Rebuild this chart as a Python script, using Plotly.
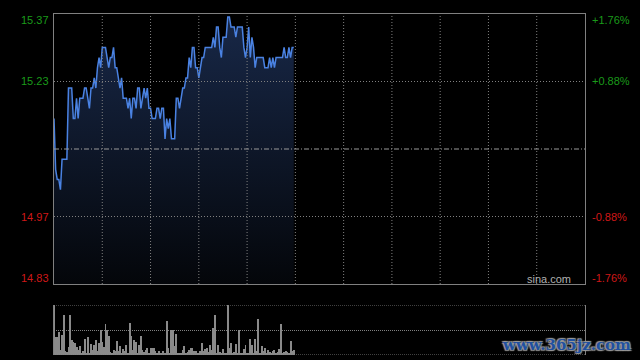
import plotly.graph_objects as go

# ---- data (HK intraday, 09:30-12:00 one point per minute) ----
prev_close = 15.10
pct_levels = [1.76, 0.88, -0.88, -1.76]
total_minutes = 330
grid_step_minutes = 30

prices = [
    15.16, 15.06, 15.04, 15.04, 15.02, 15.08, 15.08, 15.08, 15.08, 15.22,
    15.22, 15.22, 15.16, 15.16, 15.20, 15.16, 15.20, 15.20, 15.20, 15.22,
    15.22, 15.20, 15.18, 15.22, 15.22, 15.24, 15.22, 15.26, 15.28, 15.26,
    15.30, 15.30, 15.30, 15.28, 15.26, 15.28, 15.28, 15.30, 15.26, 15.26,
    15.24, 15.22, 15.24, 15.20, 15.20, 15.20, 15.18, 15.20, 15.16, 15.20,
    15.20, 15.18, 15.22, 15.22, 15.18, 15.20, 15.22, 15.20, 15.22, 15.18,
    15.18, 15.16, 15.16, 15.16, 15.18, 15.18, 15.16, 15.18, 15.18, 15.12,
    15.16, 15.14, 15.16, 15.12, 15.12, 15.12, 15.20, 15.20, 15.18, 15.20,
    15.22, 15.22, 15.24, 15.24, 15.28, 15.26, 15.30, 15.30, 15.26, 15.26,
    15.24, 15.26, 15.28, 15.28, 15.30, 15.30, 15.30, 15.30, 15.30, 15.32,
    15.30, 15.34, 15.34, 15.30, 15.28, 15.32, 15.32, 15.32, 15.36, 15.36,
    15.34, 15.34, 15.34, 15.32, 15.34, 15.34, 15.34, 15.34, 15.30, 15.28,
    15.30, 15.34, 15.28, 15.32, 15.30, 15.26, 15.28, 15.28, 15.28, 15.28,
    15.28, 15.26, 15.26, 15.26, 15.28, 15.26, 15.28, 15.26, 15.28, 15.28,
    15.28, 15.28, 15.28, 15.30, 15.28, 15.28, 15.30, 15.28, 15.30, 15.30,
]

volumes = [
    1000, 370, 370, 470, 110, 400, 800, 80, 70, 170,
    800, 300, 270, 250, 170, 100, 180, 50, 90, 320,
    50, 370, 50, 220, 100, 200, 300, 80, 250, 500,
    270, 170, 620, 510, 390, 70, 30, 100, 80, 290,
    80, 180, 50, 130, 80, 210, 30, 650, 390, 110,
    300, 270, 30, 200, 380, 100, 70, 100, 150, 30,
    150, 150, 150, 80, 50, 80, 30, 30, 80, 50,
    680, 150, 50, 500, 500, 180, 430, 50, 30, 30,
    110, 180, 30, 70, 100, 150, 150, 80, 80, 50,
    30,
    80, 250, 80, 130, 150, 70, 200, 110, 550, 800,
    30, 200, 70, 30, 130, 30, 30, 1000, 150, 250,
    30, 70, 220, 50, 500, 50, 30, 130, 200, 50,
    30, 320, 200, 50, 320, 80, 730, 50, 180, 80,
    150, 30, 100, 70, 50, 80, 110, 50, 70, 130,
    620, 50, 70, 80, 70, 30, 280, 80, 110,
]

watermark = "sina.com"
site_mark = "www.365jz.com"

# ---- derived values ----
minutes = list(range(len(prices)))
price_levels = [prev_close * (1 + p / 100) for p in pct_levels]
hi, lo = price_levels[0], price_levels[-1]
vmax = max(volumes)

W, H = 640, 360
x_dom = [54 / W, 585 / W]
y_main = [1 - 284 / H, 1 - 14 / H]
y_vol = [1 - 355 / H, 1 - 305 / H]

grey = "#808080"
green = "#1a9a1a"
red = "#d01818"
font_fam = "Liberation Sans, Arial, sans-serif"

fig = go.Figure()

fig.add_trace(go.Scatter(
    x=minutes, y=prices, mode="lines",
    line=dict(color="#4a82e2", width=1.5),
    fill="tozeroy",
    fillgradient=dict(type="vertical", start=lo, stop=hi,
                      colorscale=[[0, "rgb(4,6,10)"], [1, "rgb(24,40,72)"]]),
    xaxis="x", yaxis="y", hoverinfo="skip", showlegend=False,
))

fig.add_trace(go.Bar(
    x=minutes, y=volumes, marker=dict(color="#8a8a8a", line=dict(width=0)),
    width=0.6, xaxis="x2", yaxis="y2", hoverinfo="skip", showlegend=False,
))

fig.update_layout(
    width=W, height=H,
    margin=dict(l=0, r=0, t=0, b=0),
    paper_bgcolor="black", plot_bgcolor="black",
    showlegend=False,
    xaxis=dict(domain=x_dom, range=[0, total_minutes], anchor="y",
               showticklabels=False, ticks="", showgrid=False,
               showline=True, mirror=True, linecolor=grey, linewidth=1,
               zeroline=False, fixedrange=True),
    yaxis=dict(domain=y_main, range=[lo, hi], anchor="x",
               showticklabels=False, ticks="", showgrid=False,
               showline=True, mirror=True, linecolor=grey, linewidth=1,
               zeroline=False, fixedrange=True),
    xaxis2=dict(domain=x_dom, range=[0, total_minutes], anchor="y2",
                showticklabels=False, ticks="", showgrid=False,
                showline=False, zeroline=False, fixedrange=True),
    yaxis2=dict(domain=y_vol, range=[0, vmax], anchor="x2",
                tickvals=[vmax / 2],
                showticklabels=False, ticks="",
                showgrid=True, gridcolor=grey, gridwidth=1, griddash="1px,1px",
                showline=True, mirror=True, linecolor=grey, linewidth=1,
                zeroline=False, fixedrange=True),
    bargap=0,
)

# main-chart grid drawn above the area fill
for m in range(grid_step_minutes, total_minutes, grid_step_minutes):
    fig.add_shape(type="line", xref="x", yref="y domain", x0=m, x1=m, y0=0, y1=1,
                  layer="above", line=dict(color=grey, width=1, dash="1px,2px"))
for lvl in (price_levels[1], price_levels[2]):
    fig.add_shape(type="line", xref="x domain", yref="y", x0=0, x1=1, y0=lvl, y1=lvl,
                  layer="above", line=dict(color=grey, width=1, dash="1px,2px"))

# previous-close line and volume top/bottom dotted edges
fig.add_shape(type="line", xref="x domain", yref="y", x0=0, x1=1,
              y0=prev_close, y1=prev_close, layer="above",
              line=dict(color="#9a9a9a", width=1, dash="5px,2px,1px,2px"))
for v in (0, vmax):
    fig.add_shape(type="line", xref="x2 domain", yref="y2", x0=0, x1=1,
                  y0=v, y1=v, line=dict(color=grey, width=1, dash="1px,1px"))

# axis labels (left prices, right percentages)
shifts = [-6, 0, 0, 6]
for lvl, pct, sh in zip(price_levels, pct_levels, shifts):
    col = green if pct > 0 else red
    fig.add_annotation(xref="paper", yref="y", x=51 / W, y=lvl, yshift=sh,
                       text=f"{lvl:.2f}", showarrow=False, xanchor="right",
                       yanchor="middle", font=dict(family=font_fam, size=11, color=col))
    fig.add_annotation(xref="paper", yref="y", x=590 / W, y=lvl, yshift=sh,
                       text=f"{pct:+.2f}%", showarrow=False, xanchor="left",
                       yanchor="middle", font=dict(family=font_fam, size=11, color=col))

fig.add_annotation(xref="paper", yref="paper", x=573 / W, y=1 - 279 / H,
                   text=watermark, showarrow=False, xanchor="right", yanchor="middle",
                   font=dict(family=font_fam, size=11, color="#b0b0b0"))

fig.add_annotation(xref="paper", yref="paper", x=633 / W, y=1 - 345 / H,
                   text=f"<b>{site_mark}</b>", showarrow=False, xanchor="right",
                   yanchor="middle",
                   font=dict(family="DejaVu Serif, serif", size=15, color="#2050a0",
                             shadow="1px 1px 1px #999, -1px -1px 1px #999, 1px -1px 1px #999, -1px 1px 1px #999"))

fig.write_html("out.html")
